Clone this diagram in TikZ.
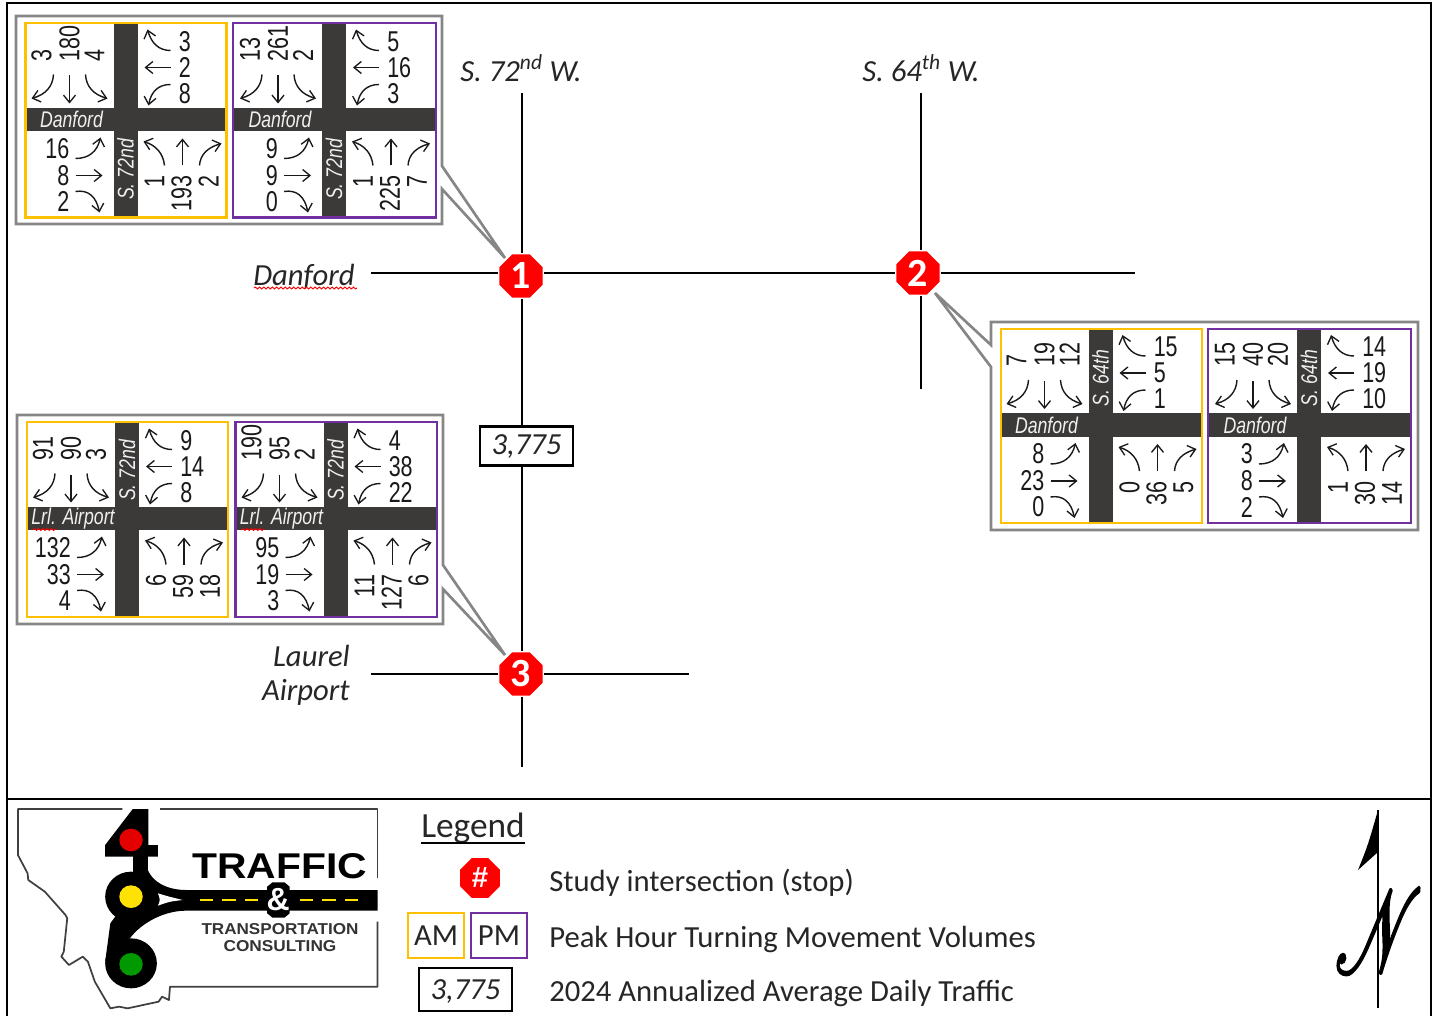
\documentclass[tikz,border=0pt]{standalone}
\usepackage{fontspec}
\usepackage{mathrsfs}
\setmainfont{Carlito}
\newfontfamily\nar[FakeStretch=0.75]{Liberation Sans}
\newfontfamily\narl[FakeStretch=0.78]{Liberation Sans}
\newfontfamily\lsans{Liberation Sans}
\usetikzlibrary{arrows.meta,shapes.geometric,decorations.pathmorphing,calc}
\definecolor{amc}{HTML}{FFC000}
\definecolor{pmc}{HTML}{7030A0}
\definecolor{roadc}{HTML}{3B3A39}
\definecolor{calloutc}{HTML}{868686}
\newcounter{vc}
\newcommand\vn[3]{\stepcounter{vc}\node[#1] (v\arabic{vc}) at (#2) {#3};}
\newcommand\tarr[3]{\draw[turn] (#1) .. controls ($(#1)!.67!(#2)$) and ($(#3)!.67!(#2)$) .. (#3);}
\tikzset{
  vol/.style={inner sep=0pt,font=\nar\fontsize{21.5pt}{21.5pt}\selectfont,text=black!90},
  volv/.style={vol,rotate=90},
  lbl/.style={inner sep=0pt,font=\narl\itshape\fontsize{17pt}{17pt}\selectfont,text=black!6},
  turn/.style={line width=1.05pt,black!90,-{Straight Barb[length=5.5pt,width=9pt,line width=1pt]}},
  rlab/.style={inner sep=0pt,font=\itshape\fontsize{23pt}{23pt}\selectfont,text=black!85},
  leg/.style={inner sep=0pt,anchor=west,font=\fontsize{23pt}{23pt}\selectfont,text=black!85},
  mainroad/.style={line width=1.9pt,black},
  frame/.style={line width=2pt,black},
  stopb/.style={regular polygon,regular polygon sides=8,fill=red,text=white,inner sep=0pt,minimum size=35pt,outer sep=.8pt,font=\bfseries\fontsize{30pt}{30pt}\selectfont},
  callout/.style={fill=white,draw=calloutc,line width=2pt,line join=miter},
  spell/.style={red,line width=.7pt,decorate,decoration={snake,amplitude=.7pt,segment length=3.2pt}},
  logoline/.style={draw=black!75,line width=1.3pt,line join=round},
  logotxt/.style={inner sep=0pt,font=\lsans\bfseries},
}
\newcommand\intsec[8]{%
 \begin{scope}[shift={(#1,#2)}]
  \fill[white] (#3,#4) rectangle (#5,#6);
  \fill[roadc] (#3,-11.5) rectangle (#5,11.5);
  \fill[roadc] (-12,#4) rectangle (12,#6);
  \draw[#7,line width=1.8pt] (#3,#4) rectangle (#5,#6);
  #8
  \tarr{-72,-45}{-73,-27}{-94,-21}
  \draw[turn] (-56,-44) -- (-56,-16);
  \tarr{-40,-45}{-39,-27}{-18,-21}
  \tarr{45,-69}{28,-69}{22,-90}
  \draw[turn] (45,-52) -- (19,-52);
  \tarr{45,-35}{27,-35}{23,-14}
  \tarr{-50,39}{-30,39}{-25,18}
  \draw[turn] (-50,56) -- (-23,56);
  \tarr{-50,72}{-31,69}{-26,93}
  \tarr{39,46}{37,28}{18,22}
  \draw[turn] (57,46) -- (57,19);
  \tarr{74,46}{75,30}{96,24}
 \end{scope}}
\newcommand\volsNS[6]{%
 \vn{volv,anchor=west}{-84,-58}{#1}\vn{volv,anchor=west}{-56,-58}{#2}\vn{volv,anchor=west}{-31,-58}{#3}%
 \vn{volv,anchor=east}{29,56}{#4}\vn{volv,anchor=east}{56,56}{#5}\vn{volv,anchor=east}{83,56}{#6}}
\newcommand\volsEW[6]{%
 \vn{vol,anchor=west}{53,-78}{#1}\vn{vol,anchor=west}{53,-52}{#2}\vn{vol,anchor=west}{53,-26}{#3}%
 \vn{vol,anchor=east}{-56,29}{#4}\vn{vol,anchor=east}{-56,56}{#5}\vn{vol,anchor=east}{-56,82}{#6}}
\newcommand\ewlab[1]{\vn{lbl}{-54,0}{#1}}
\newcommand\nslab[2]{\vn{lbl,rotate=90}{0,#1}{#2}}
\begin{document}
\begin{tikzpicture}[x=.75pt,y=-.75pt]
\useasboundingbox (0,0) rectangle (1436,1016);
\fill[white] (0,0) rectangle (1436,1016);
% frame
\draw[frame] (7,1016) -- (7,3) -- (1431,3) -- (1431,1016);
\draw[frame] (7,799) -- (1431,799);

% intersections
\node[stopb] (n1) at (521,276) {1};
\node[stopb] (n2) at (918,273) {2};
\node[stopb] (n3) at (521,674) {3};
\coordinate (a72) at (522,93);
\coordinate (b72) at (522,767);
\coordinate (a64) at (921,93);
\coordinate (b64) at (921,389);
\coordinate (wD) at (371,273);
\coordinate (eD) at (1135,273);
\coordinate (wL) at (371,674);
\coordinate (eL) at (689,674);
\node[draw=black,line width=1.9pt,fill=white,minimum width=69.75pt,minimum height=29.25pt,inner sep=0pt,text height=13pt,text depth=0pt,font=\itshape\fontsize{23pt}{23pt}\selectfont,text=black!85] (aadt) at (526.5,446) {3,775};
\draw[mainroad] (a72) -- (a72|-n1.north);
\draw[mainroad] (a72|-n1.south) -- (a72|-aadt.north);
\draw[mainroad] (a72|-aadt.south) -- (a72|-n3.north);
\draw[mainroad] (a72|-n3.south) -- (b72);
\draw[mainroad] (a64) -- (a64|-n2.north);
\draw[mainroad] (a64|-n2.south) -- (b64);
\draw[mainroad] (wD) -- (wD-|n1.west);
\draw[mainroad] (wD-|n1.east) -- (wD-|n2.west);
\draw[mainroad] (wD-|n2.east) -- (eD);
\draw[mainroad] (wL) -- (wL-|n3.west);
\draw[mainroad] (wL-|n3.east) -- (eL);

% road labels
\node[rlab] (l72) at (521,68.5) {S. 72\textsuperscript{nd} W.};
\node[rlab] (l64) at (921,68.5) {S. 64\textsuperscript{th} W.};
\node[rlab,anchor=east] (lD) at (355,277) {Danford};
\draw[spell] (254,288) -- (357,288);
\node[rlab,anchor=east] (lL1) at (350,656) {Laurel};
\node[rlab,anchor=east] (lL2) at (350,692) {Airport};

% callouts
\draw[callout] (16,16) -- (442,16) -- (442,166) -- (505,258) -- (442,189) -- (442,224) -- (16,224) -- cycle;
\draw[callout] (991,322) -- (1418,322) -- (1418,530) -- (991,530) -- (991,367) -- (935,293) -- (991,345) -- cycle;
\draw[callout] (17,415) -- (443,415) -- (443,565) -- (505,655) -- (443,589) -- (443,624) -- (17,624) -- cycle;

% panel 1
\intsec{125.5}{119.5}{-100}{-96.5}{101}{98}{amc}{\ewlab{Danford}\nslab{50}{S. 72nd}\volsNS{3}{180}{4}{1}{193}{2}\volsEW{3}{2}{8}{16}{8}{2}}
\intsec{334}{119.5}{-101}{-96.5}{102}{98}{pmc}{\ewlab{Danford}\nslab{50}{S. 72nd}\volsNS{13}{261}{2}{1}{225}{7}\volsEW{5}{16}{3}{9}{9}{0}}
% panel 2
\intsec{1100.5}{425}{-99.5}{-96}{101.5}{98}{amc}{\ewlab{Danford}\nslab{-47}{S. 64th}\volsNS{7}{19}{12}{0}{36}{5}\volsEW{15}{5}{1}{8}{23}{0}}
\intsec{1309}{425}{-101}{-96}{102}{98}{pmc}{\ewlab{Danford}\nslab{-47}{S. 64th}\volsNS{15}{40}{20}{1}{30}{14}\volsEW{14}{19}{10}{3}{8}{2}}
% panel 3
\intsec{127}{518.5}{-100}{-96.5}{101}{98.5}{amc}{\ewlab{Lrl. Airport}\draw[spell] (-94,11) -- (-71,11);\nslab{-48}{S. 72nd}\volsNS{91}{90}{3}{6}{59}{18}\volsEW{9}{14}{8}{132}{33}{4}}
\intsec{335.5}{518.5}{-100}{-96.5}{101.5}{98.5}{pmc}{\ewlab{Lrl. Airport}\draw[spell] (-94,11) -- (-71,11);\nslab{-48}{S. 72nd}\volsNS{190}{95}{2}{11}{127}{6}\volsEW{4}{38}{22}{95}{19}{3}}

% logo
\begin{scope}[shift={(0,795)},x=.2586pt,y=-.25pt]
 \draw[logoline] (355,42) -- (52,42) -- (52,180) -- (80,235) -- (82,255) -- (130,290) -- (190,360) -- (195,370) -- (185,470) -- (178,485) -- (200,510) -- (240,485) -- (255,500) -- (275,560) -- (320,640) -- (345,635) -- (370,640) -- (460,620) -- (470,605) -- (490,615) -- (493,575) -- (1095,575) -- (1095,380);
 \draw[logoline] (1095,250) -- (1095,42) -- (465,42);
 \fill[black] (385,42) -- (430,42) -- (430,150) -- (458,150) -- (458,185) -- (305,185) -- (305,150) -- cycle;
 \fill[black] (385,180) rectangle (430,250);
 \fill[black] (380,305) circle (75);
 \fill[black] (380,505) circle (75);
 \fill[black] (425,215) .. controls (440,265) and (490,285) .. (540,285) -- (1095,285) -- (1095,347) -- (540,347) .. controls (470,347) and (400,390) .. (370,440) -- (305,500) -- (320,385) -- (380,300) -- cycle;
 \fill[white] (458,295) .. controls (490,305) .. (530,315) .. controls (490,320) .. (458,332) .. controls (465,315) .. cycle;
 \fill[black] (775,275) -- (790,262) -- (825,262) -- (840,275) -- (840,355) -- (825,368) -- (790,368) -- (775,355) -- cycle;
 \fill[red!90!black] (380,135) circle (34);
 \fill[yellow!85!orange] (380,305) circle (34);
 \fill[green!60!black] (380,508) circle (34);
 \foreach \xa in {580,645,710,870,935,1000} {\fill[yellow!85!orange] (\xa,311) rectangle ++(38,7);}
 \node[logotxt,text=white,font=\lsans\bfseries\fontsize{24pt}{24pt}\selectfont] (amp) at (807,315) {\&};
 \node[logotxt] (t1) at (811,213) {\resizebox{131pt}{18.75pt}{TRAFFIC}};
 \node[logotxt,text=black!80] (t2) at (812,402) {\resizebox{117.7pt}{8.25pt}{TRANSPORTATION}};
 \node[logotxt,text=black!80] (t3) at (812,452) {\resizebox{84.6pt}{8.25pt}{CONSULTING}};
\end{scope}

% legend
\node[inner sep=0pt,font=\fontsize{26.5pt}{26.5pt}\selectfont,text=black!85] (lg) at (473,828) {Legend};
\draw[line width=1.5pt] (421,843) -- (525,843);
\node[stopb,minimum size=32.25pt,outer sep=0pt,font=\lsans\bfseries\fontsize{22pt}{22pt}\selectfont] (kb) at (480,878) {\#};
\node[draw=amc,line width=1.7pt,minimum width=42pt,minimum height=33.75pt,inner sep=0pt,font=\fontsize{23pt}{23pt}\selectfont,text=black!85] (kam) at (436,935.5) {\raisebox{-.7pt}{AM}};
\node[draw=pmc,line width=1.7pt,minimum width=42pt,minimum height=33.75pt,inner sep=0pt,font=\fontsize{23pt}{23pt}\selectfont,text=black!85] (kpm) at (499,935.5) {\raisebox{-.7pt}{PM}};
\node[draw=black,line width=1.9pt,minimum width=69.75pt,minimum height=32.25pt,inner sep=0pt,text height=14.5pt,text depth=0pt,font=\itshape\fontsize{23pt}{23pt}\selectfont,text=black!85] (kv) at (465.5,989.5) {3,775};
\node[leg] (t4) at (549,883) {Study intersection (stop)};
\node[leg] (t5) at (549,939) {Peak Hour Turning Movement Volumes};
\node[leg] (t6) at (549,993) {2024 Annualized Average Daily Traffic};

% north arrow
\coordinate (nt) at (1378,810);
\coordinate (nb) at (1378,1008);
\draw[line width=1.5pt] (nt) -- (nb);
\fill (nt) -- (1378,852) -- (1358,870) .. controls (1368,845) .. cycle;
\node[inner sep=0pt] (nn) at (1379,931) {\resizebox{66pt}{62pt}{\special{pdf:code 2 Tr 0.25 w}$\mathscr{N}$\special{pdf:code 0 Tr}}};
\end{tikzpicture}
\end{document}
